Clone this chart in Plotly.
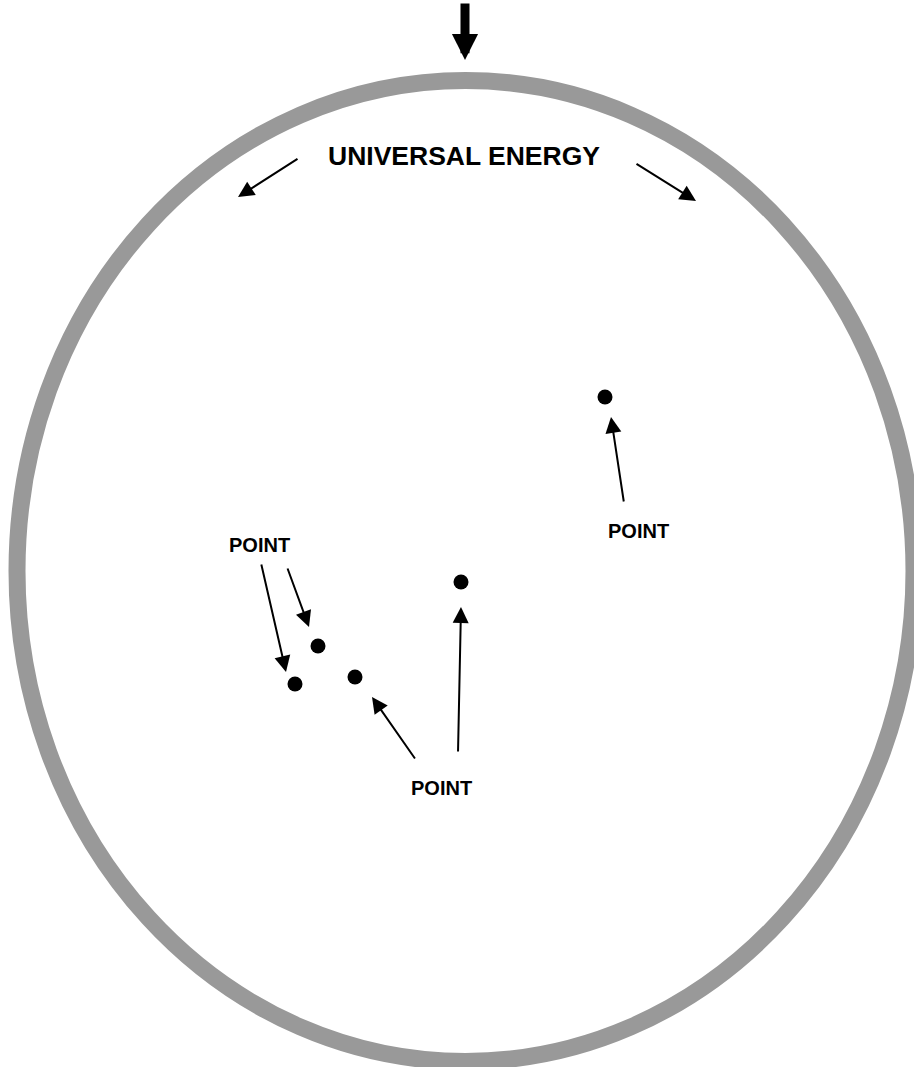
import plotly.graph_objects as go

# Diagram data (pixel-space coordinates of the drawing canvas, y downward)
point_x = [605, 461, 318, 295, 355]
point_y = [397, 582, 646, 684, 677]

label_texts = ["UNIVERSAL ENERGY", "POINT", "POINT", "POINT"]
label_x = [464, 638, 259, 441]
label_y = [156, 531, 545, 788]
label_sizes = [26.5, 20, 20, 20]

# arrows: tail (ax, ay) -> tip (x, y)
arrow_tail_x = [299, 635, 624, 261, 287, 416, 458]
arrow_tail_y = [158, 163, 503, 563, 567, 760, 753]
arrow_tip_x = [238, 696, 611, 286, 309, 372, 461]
arrow_tip_y = [197, 201, 417, 672, 627, 697, 607]

# big top arrow
top_tail = (465, 2)
top_tip = (465, 60)

# enclosing ellipse bounds
ell_x0, ell_x1 = 17, 914
ell_y0, ell_y1 = 80.5, 1061.5

W, H = 914, 1067

fig = go.Figure()

fig.add_shape(type="circle", xref="x", yref="y",
              x0=ell_x0, x1=ell_x1, y0=ell_y0, y1=ell_y1,
              line=dict(color="#999999", width=17), fillcolor="rgba(0,0,0,0)",
              layer="below")

fig.add_trace(go.Scatter(x=point_x, y=point_y, mode="markers",
                         marker=dict(size=15, color="black"),
                         hoverinfo="skip", showlegend=False))

annotations = []
for t, x, y, s in zip(label_texts, label_x, label_y, label_sizes):
    annotations.append(dict(x=x, y=y, xref="x", yref="y", text="<b>%s</b>" % t,
                            showarrow=False, xanchor="center", yanchor="middle",
                            font=dict(family="Liberation Sans, Arial, sans-serif",
                                      size=s, color="black")))
for ax, ay, x, y in zip(arrow_tail_x, arrow_tail_y, arrow_tip_x, arrow_tip_y):
    annotations.append(dict(x=x, y=y, ax=ax, ay=ay, xref="x", yref="y",
                            axref="x", ayref="y", text="", showarrow=True,
                            arrowhead=2, arrowsize=1.6, arrowwidth=2,
                            arrowcolor="black"))
annotations.append(dict(x=top_tip[0], y=top_tip[1], ax=top_tail[0], ay=top_tail[1],
                        xref="x", yref="y", axref="x", ayref="y", text="",
                        showarrow=True, arrowhead=2, arrowsize=0.58, arrowwidth=9,
                        arrowcolor="black"))

fig.update_layout(
    width=W, height=H,
    margin=dict(l=0, r=0, t=0, b=0),
    paper_bgcolor="white", plot_bgcolor="white",
    xaxis=dict(range=[0, W], visible=False, fixedrange=True),
    yaxis=dict(range=[H, 0], visible=False, fixedrange=True),
    annotations=annotations,
    showlegend=False,
)

fig.write_html("out.html", config={"displayModeBar": False},
               post_script="document.body.style.margin='0';document.body.style.overflow='hidden';")
